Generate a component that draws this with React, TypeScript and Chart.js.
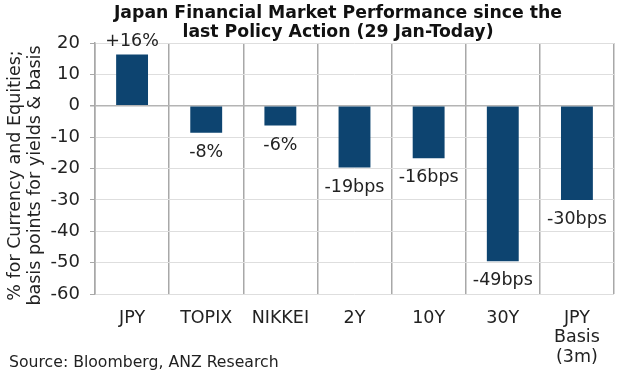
import React, { useEffect, useRef } from "react";
import { Chart, registerables } from "chart.js";

Chart.register(...registerables);

const categories: (string | string[])[] = ["JPY", "TOPIX", "NIKKEI", "2Y", "10Y", "30Y", ["JPY", "Basis", "(3m)"]];
const values: number[] = [16.3, -8.6, -6.3, -19.7, -16.7, -49.6, -30.0];
const valueLabels: string[] = ["+16%", "-8%", "-6%", "-19bps", "-16bps", "-49bps", "-30bps"];
const titleLines: string[] = ["Japan Financial Market Performance since the", "last Policy Action (29 Jan-Today)"];
const yTitleLines: string[] = ["% for Currency and Equities;", "basis points for yields & basis"];
const sourceText = "Source: Bloomberg, ANZ Research";
const yMin = -60;
const yMax = 20;
const yStep = 10;

const FONT = "'DejaVu Sans', Verdana, sans-serif";
const TEXT = "#222222";
const BAR = "#0d4470";

const textPlugin = {
  id: "textPlugin",
  afterDraw(chart: any) {
    const ctx = chart.ctx as CanvasRenderingContext2D;
    ctx.save();
    // Title
    ctx.fillStyle = "#111111";
    ctx.font = `bold 17.3px ${FONT}`;
    ctx.textAlign = "center";
    ctx.textBaseline = "alphabetic";
    ctx.fillText(titleLines[0], 338, 17.5);
    ctx.fillText(titleLines[1], 338, 36.5);

    // Y axis title (rotated)
    ctx.fillStyle = TEXT;
    ctx.font = `17.5px ${FONT}`;
    yTitleLines.forEach((line, i) => {
      ctx.save();
      ctx.translate(20 + i * 20, 175.5);
      ctx.rotate(-Math.PI / 2);
      ctx.textAlign = "center";
      ctx.textBaseline = "alphabetic";
      ctx.fillText(line, 0, 0);
      ctx.restore();
    });

    // Source
    ctx.font = `15.7px ${FONT}`;
    ctx.textAlign = "left";
    ctx.fillText(sourceText, 9, 367);

    // Data labels
    const meta = chart.getDatasetMeta(0);
    ctx.font = `17.5px ${FONT}`;
    ctx.textAlign = "center";
    meta.data.forEach((bar: any, i: number) => {
      const v = values[i];
      const y = v >= 0 ? bar.y - 9 : bar.y + 24;
      ctx.fillText(valueLabels[i], bar.x, y);
    });
    ctx.restore();
  },
};

export default function App() {
  const ref = useRef<HTMLCanvasElement | null>(null);
  useEffect(() => {
    if (!ref.current) return;
    const chart = new Chart(ref.current, {
      type: "bar",
      data: {
        labels: categories as any,
        datasets: [
          {
            data: values,
            backgroundColor: BAR,
            borderWidth: 0,
            categoryPercentage: 1,
            barPercentage: 0.43,
          },
        ],
      },
      options: {
        animation: false,
        responsive: false,
        devicePixelRatio: 1,
        layout: { padding: { top: 43, right: 6, left: 0, bottom: 0 } },
        plugins: { legend: { display: false }, tooltip: { enabled: false }, title: { display: false } },
        scales: {
          x: {
            afterFit: (s: any) => {
              s.height = 76;
            },
            grid: {
              offset: true,
              color: "#a8a8a8",
              lineWidth: 1.5,
              drawTicks: false,
            },
            border: { display: false },
            ticks: {
              color: TEXT,
              font: { family: FONT, size: 17.5, lineHeight: 1.14 },
              padding: 14,
              maxRotation: 0,
              autoSkip: false,
            },
          },
          y: {
            min: yMin,
            max: yMax,
            afterFit: (s: any) => {
              s.width = 95;
            },
            grid: {
              color: (c: any) => (c.tick && c.tick.value === 0 ? "#b4b4b4" : "#dedede"),
              lineWidth: (c: any) => (c.tick && c.tick.value === 0 ? 1.5 : 1),
              tickColor: "#a8a8a8",
              tickLength: 5,
            },
            border: { display: true, color: "#a8a8a8", width: 1.5 },
            ticks: {
              stepSize: yStep,
              color: TEXT,
              font: { family: FONT, size: 18 },
              padding: 10,
            },
          },
        },
      },
      plugins: [textPlugin],
    });
    return () => chart.destroy();
  }, []);
  return (
    <div style={{ position: "fixed", left: 0, top: 0, width: 620, height: 370, background: "#ffffff" }}>
      <canvas ref={ref} width={620} height={370} style={{ display: "block", width: 620, height: 370 }} />
    </div>
  );
}
